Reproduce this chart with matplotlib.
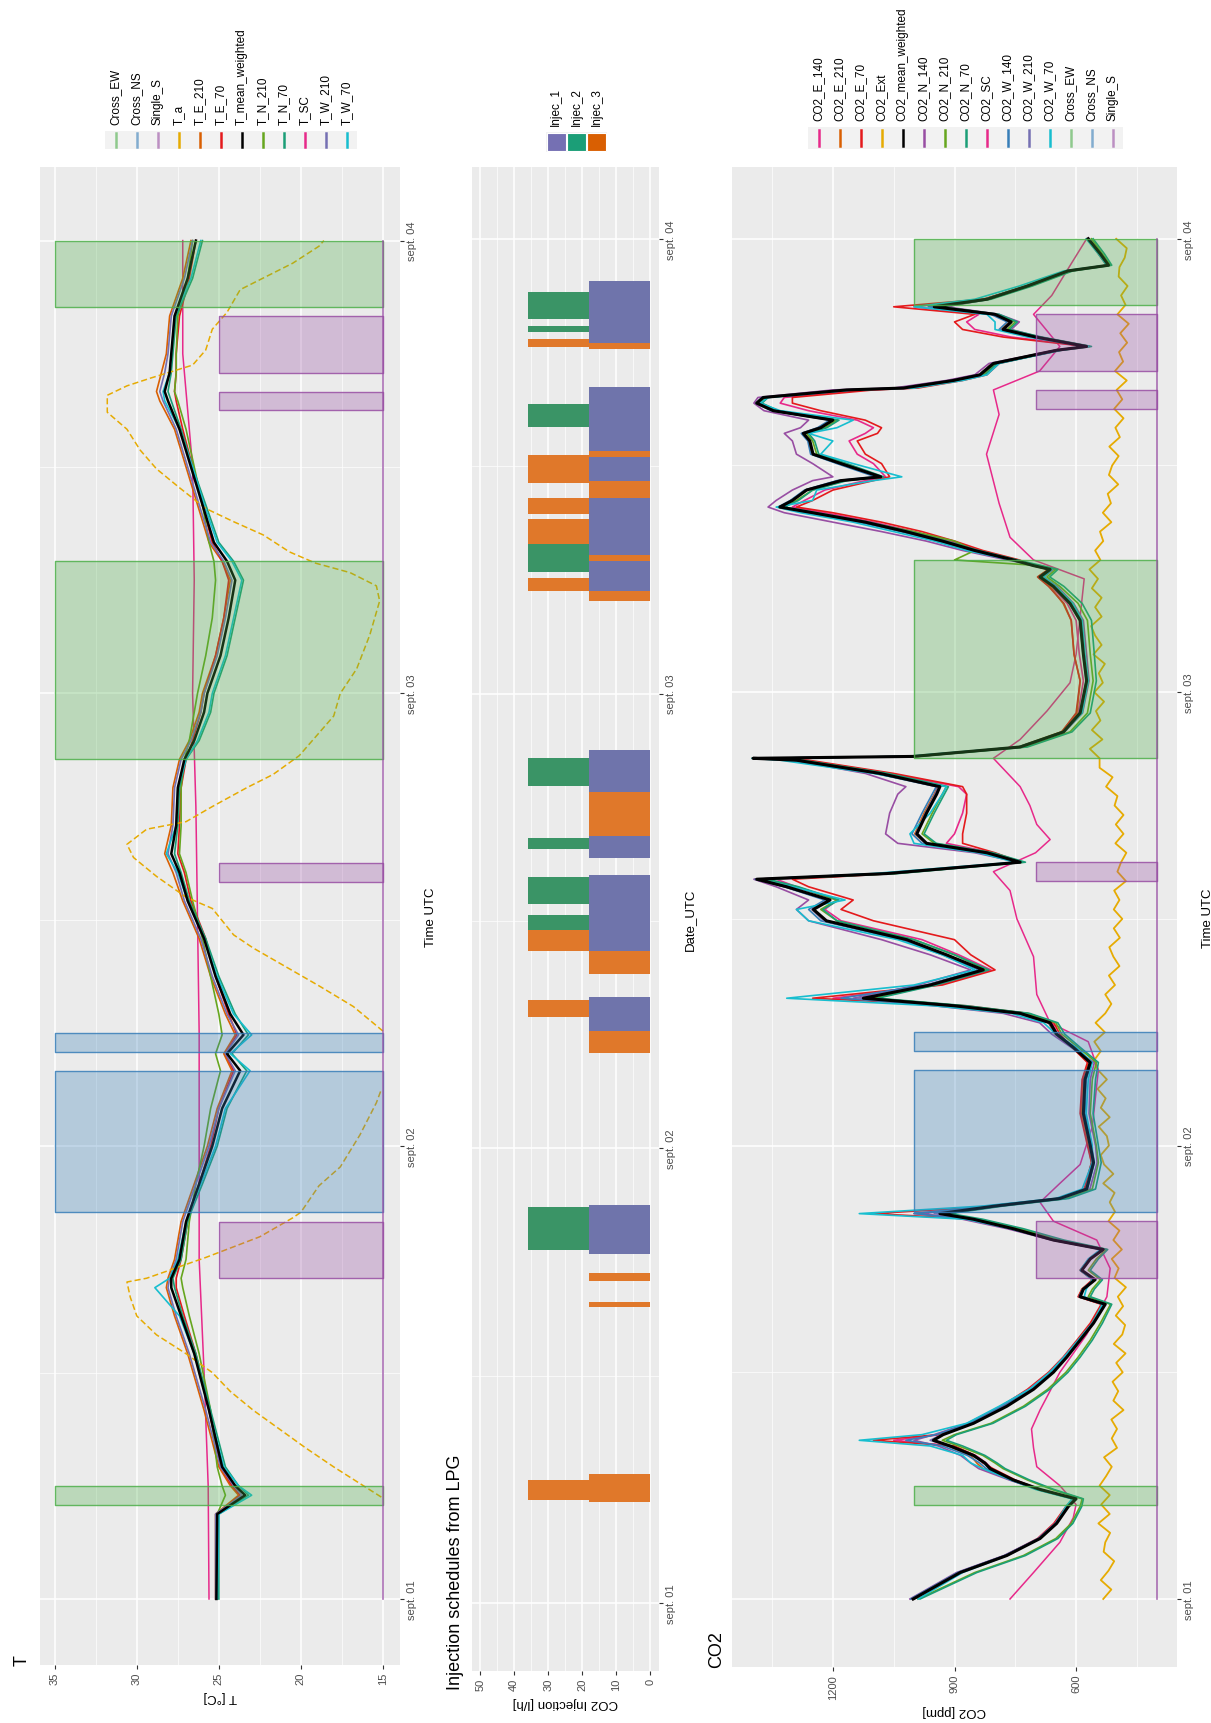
import matplotlib.pyplot as plt
from matplotlib.colors import to_rgba
from matplotlib.patches import Rectangle

plt.rcParams['font.family'] = ['Liberation Sans', 'DejaVu Sans']

W, H = 1211, 1724

# time is in hours since 1 Sept 00:00 UTC
day_ticks = [0, 24, 48, 72]
day_labels = ['sept. 01', 'sept. 02', 'sept. 03', 'sept. 04']

# ---------- ventilation periods ----------
cross_ew_start = [5.0, 44.5, 68.5]
cross_ew_end = [6.0, 55.0, 72.0]
cross_ns_start = [20.5, 29.0]
cross_ns_end = [28.0, 30.0]
single_s_start = [17.0, 38.0, 63.0, 65.0]
single_s_end = [20.0, 39.0, 64.0, 68.0]

# ---------- temperatures ----------
t_hours = [0, 4.5, 5.5, 6, 7, 10, 13, 15, 16.5, 17,
           18, 20, 20.5, 22, 24, 26, 28, 28.9, 29.9, 31,
           33, 35, 37, 38.5, 39.5, 41, 43, 44.5, 45.5, 47,
           48, 50, 52, 54, 55, 56, 58, 60, 62, 63.5,
           64, 65, 66, 68, 69, 70, 72]
T_mean_weighted = [25.15, 25.1, 23.4, 24.0, 24.8, 25.6, 26.5, 27.3, 27.9, 27.9,
                   27.4, 27.0, 26.8, 26.2, 25.4, 24.8, 23.7, 24.5, 23.5, 24.3,
                   25.2, 25.9, 26.9, 27.4, 27.9, 27.6, 27.5, 27.1, 26.5, 25.9,
                   25.7, 24.9, 24.4, 24.0, 24.5, 25.3, 26.0, 26.7, 27.4, 28.1,
                   28.3, 28.0, 27.9, 27.7, 27.3, 26.9, 26.4]
T_N_210 = [25.1, 25.1, 24.6, 24.8, 25.1, 25.5, 26.2, 26.8, 27.2, 27.3,
           27.0, 26.8, 26.7, 26.4, 25.9, 25.5, 24.9, 25.2, 24.8, 25.0,
           25.5, 26.0, 26.6, 27.0, 27.4, 27.3, 27.3, 27.1, 26.8, 26.5,
           26.3, 25.8, 25.4, 25.2, 25.3, 25.6, 26.0, 26.5, 27.0, 27.5,
           27.7, 27.6, 27.6, 27.5, 27.2, 26.9, 26.6]
T_N_70 = [25.0, 25.0, 23.2, 23.8, 24.6, 25.5, 26.4, 27.2, 27.7, 27.8,
          27.3, 26.9, 26.7, 26.0, 25.1, 24.5, 23.3, 24.2, 23.2, 24.0,
          25.0, 25.8, 26.8, 27.3, 27.7, 27.5, 27.4, 27.0, 26.2, 25.5,
          25.3, 24.5, 24.0, 23.5, 24.1, 25.0, 25.8, 26.6, 27.3, 27.9,
          28.1, 27.9, 27.8, 27.6, 27.1, 26.6, 26.0]
T_W_70 = [25.1, 25.0, 23.0, 23.8, 24.7, 25.6, 26.5, 27.4, 28.9, 28.0,
          27.5, 27.0, 26.8, 26.1, 25.2, 24.6, 23.1, 24.3, 23.0, 24.1,
          25.1, 25.9, 26.9, 27.5, 28.2, 27.6, 27.5, 27.0, 26.3, 25.6,
          25.4, 24.6, 24.1, 23.6, 24.2, 25.1, 25.9, 26.6, 27.4, 28.3,
          28.4, 28.0, 27.9, 27.7, 27.2, 26.7, 26.1]
T_W_210 = [25.2, 25.2, 23.6, 24.1, 24.9, 25.8, 26.8, 27.6, 28.1, 28.0,
           27.6, 27.2, 27.0, 26.4, 25.6, 25.0, 24.0, 24.6, 23.8, 24.5,
           25.4, 26.1, 27.1, 27.6, 28.1, 27.8, 27.7, 27.3, 26.7, 26.1,
           25.9, 25.1, 24.6, 24.2, 24.7, 25.5, 26.2, 26.9, 27.6, 28.4,
           28.6, 28.3, 28.1, 27.9, 27.5, 27.1, 26.6]
T_E_210 = [25.2, 25.2, 23.8, 24.3, 25.0, 25.9, 26.9, 27.7, 28.2, 28.1,
           27.7, 27.3, 27.1, 26.5, 25.7, 25.1, 24.2, 24.7, 24.0, 24.6,
           25.5, 26.2, 27.2, 27.8, 28.3, 27.9, 27.8, 27.4, 26.8, 26.2,
           26.0, 25.2, 24.7, 24.3, 24.8, 25.6, 26.3, 27.0, 27.7, 28.6,
           28.8, 28.5, 28.2, 28.0, 27.6, 27.2, 26.7]
T_E_70 = [25.1, 25.1, 23.7, 24.2, 24.9, 25.6, 26.4, 27.1, 27.6, 27.6,
          27.3, 26.9, 26.8, 26.2, 25.5, 25.0, 24.1, 24.6, 23.9, 24.4,
          25.2, 25.8, 26.7, 27.1, 27.5, 27.4, 27.3, 27.0, 26.6, 26.1,
          25.9, 25.2, 24.7, 24.4, 24.8, 25.4, 26.0, 26.6, 27.2, 27.6,
          27.7, 27.6, 27.6, 27.4, 27.1, 26.8, 26.4]
sc_hours = [0, 6, 12, 18, 24, 30, 36, 42, 48, 54, 60, 66, 72]
T_SC = [25.6, 25.65, 25.9, 26.2, 26.2, 26.2, 26.3, 26.4, 26.6, 26.5, 26.6, 27.2, 27.2]
nan = float('nan')
ta_hours = [5.4, 7.0, 8.0, 9.0, 10.0, 11.0, 12.0, 13.0, 14.0, 15.0,
            16.0, 16.8, 17.0, 18.1, 19.2, 20.2, 20.5, 21.9, 22.9, 24.6,
            26.3, 27.0, nan, 30.1, 31.4, 32.5, 33.5, 34.5, 35.2, 36.6,
            37.2, 38.3, 39.3, 40.0, 40.8, 41.2, 42.0, 43.0, 43.7, 44.7,
            46.8, 48.0, 49.3, 51.1, 52.9, 53.7, 54.4, 54.9, 55.5, 56.4,
            57.1, 57.8, 58.9, 59.9, 60.9, 62.0, 62.9, 63.8, 64.3, 64.7,
            65.4, 66.2, 67.3, 68.2, 69.4, 70.1, 70.8, 71.7, 72.0]
T_a = [15.1, 18.0, 19.7, 21.3, 22.9, 24.3, 25.4, 27.0, 28.8, 30.0,
       30.4, 30.6, 29.4, 25.8, 22.5, 20.5, 20.0, 18.9, 17.6, 16.4,
       15.4, 15.1, nan, 15.0, 16.8, 18.9, 20.9, 22.9, 24.1, 25.4,
       27.0, 28.8, 30.2, 30.6, 29.4, 27.0, 25.4, 23.3, 21.7, 20.1,
       18.0, 17.6, 16.6, 15.8, 15.2, 15.4, 17.0, 19.1, 20.7, 22.3,
       24.1, 25.8, 27.4, 28.8, 29.8, 30.6, 31.8, 31.8, 30.6, 29.2,
       26.6, 25.8, 25.4, 24.5, 23.7, 22.1, 20.5, 18.9, 18.6]

# ---------- CO2 injections (l/h), intervals in hours ----------
inj1_start = [18.4, 30.2, 34.4, 39.3, 42.8, 53.4, 55.3, 59.2, 60.8, 66.5]
inj1_end = [21.0, 32.0, 38.4, 40.5, 45.0, 55.0, 58.3, 60.5, 64.2, 69.8]
inj2_start = [18.6, 35.5, 36.9, 39.8, 43.1, 54.4, 62.1, 67.1, 67.8]
inj2_end = [20.9, 36.3, 38.3, 40.4, 44.6, 55.9, 63.3, 67.4, 69.2]
inj3_start = [5.3, 5.45, 15.6, 17.0, 29.0, 30.9, 33.2, 34.4, 40.5,
              52.9, 53.4, 55.0, 55.9, 57.5, 58.3, 59.1, 60.5, 66.2, 66.3]
inj3_end = [6.8, 6.5, 15.9, 17.4, 30.2, 31.8, 34.4, 35.5, 42.8,
            53.4, 54.1, 55.3, 57.2, 58.3, 59.2, 60.6, 60.8, 66.5, 66.7]
inj3_base = [0, 18, 0, 0, 0, 18, 0, 18, 0,
             0, 18, 0, 18, 18, 0, 18, 0, 0, 18]
inj_rate = 18

# ---------- CO2 concentrations (ppm) ----------
co2_hours = [0, 1.4, 2.3, 3.2, 4.0, 4.9, 5.3, 5.8, 6.3, 6.9,
             7.2, 7.6, 8.1, 8.4, 8.7, 9.3, 10.2, 11.1, 12.0, 12.8,
             13.7, 14.6, 15.6, 16.0, 16.4, 16.9, 17.4, 18.0, 18.5, 19.0,
             19.6, 20.1, 20.4, 20.8, 21.2, 21.7, 23.1, 24.0, 25.7, 27.5,
             28.4, 29.2, 29.9, 30.5, 31.0, 31.4, 31.8, 32.5, 33.3, 34.1,
             34.9, 35.9, 36.5, 37.0, 37.7, 38.1, 38.4, 39.0, 39.5, 40.0,
             40.5, 41.6, 42.6, 43.0, 43.7, 44.4, 44.5, 44.6, 45.1, 45.9,
             46.9, 48.6, 50.0, 51.8, 52.7, 53.6, 54.1, 54.5, 54.7, 55.0,
             55.5, 56.0, 56.5, 57.0, 57.5, 57.8, 58.15, 58.7, 59.2, 59.4,
             60.1, 60.6, 61.3, 61.7, 62.0, 62.4, 62.9, 63.3, 63.6, 64.0,
             64.1, 64.5, 64.8, 65.4, 66.1, 66.3, 66.8, 67.2, 67.6, 68.0,
             68.4, 68.8, 69.5, 70.3, 70.6, 71.2, 72.0]
CO2_mean_weighted = [1002, 886, 771, 689, 648, 619, 600, 689, 755, 812,
                     825, 853, 911, 952, 928, 853, 771, 705, 656, 623,
                     590, 557, 528, 590, 582, 553, 586, 565, 533, 656,
                     755, 853, 936, 800, 640, 574, 557, 565, 582, 578,
                     565, 607, 648, 664, 738, 900, 1125, 960, 829, 920,
                     1018, 1216, 1248, 1207, 1314, 1388, 1067, 738, 820, 969,
                     993, 969, 944, 936, 1084, 1290, 1397, 1002, 738, 631,
                     590, 574, 582, 590, 615, 656, 689, 664, 705, 755,
                     850, 930, 1020, 1120, 1250, 1331, 1300, 1265, 1180, 1082,
                     1180, 1249, 1257, 1273, 1230, 1200, 1347, 1388, 1372, 1166,
                     1026, 903, 837, 804, 648, 574, 700, 780, 760, 800,
                     950, 820, 720, 620, 520, 540, 570]
CO2_W_70 = [990, 880, 770, 690, 650, 625, 610,
            700, 760, 830, 860, 880, 960, 1135, 980,
            870, 790, 715, 665, 630, 595, 560, 535,
            580, 575, 560, 590, 570, 540, 650,
            760, 870, 1135, 830,
            650, 585, 560, 560, 575, 570, 560,
            600, 650, 680, 760, 950, 1314,
            1000, 850, 930, 1040, 1260, 1290, 1170, 1300, 1380, 1100,
            750, 840, 1000, 1010, 960, 930, 920, 1100,
            1330, 1400, 1020,
            740, 630, 585, 570, 578, 585, 608, 650, 680, 660, 700,
            760, 870, 950, 1050, 1150, 1280, 1340,
            1250, 1240, 1100, 1030, 1150, 1230, 1200, 1260, 1190, 1150, 1330, 1380, 1360,
            1150, 1000, 880, 820, 790, 640, 570,
            720, 800, 800, 820, 1000, 850,
            740, 630, 525, 545, 575]
CO2_E_70 = [1000, 890, 775, 695, 655, 625, 605,
            690, 750, 805, 830, 850, 900, 1100, 940,
            860, 785, 720, 668, 632, 598, 565, 538,
            595, 585, 560, 590, 568, 538, 640,
            740, 840, 1100, 790,
            645, 580, 562, 572, 590, 585, 572,
            610, 640, 655, 720, 870, 1250,
            930, 800, 860, 900, 1100, 1180, 1150, 1260, 1300, 1050,
            735, 800, 880, 880, 870, 870, 880, 1050,
            1260, 1380, 990,
            735, 635, 600, 590, 605, 612, 630, 668, 695, 668, 705,
            740, 830, 900, 980, 1080, 1200, 1290,
            1250, 1200, 1100, 1060, 1080, 1120, 1140, 1090, 1080, 1120, 1230, 1300, 1300,
            1100, 990, 880, 820, 790, 645, 575,
            780, 880, 900, 850, 1050, 830,
            720, 620, 525, 545, 572]
CO2_E_140 = [1005, 890, 772, 690, 648, 620, 602,
             688, 752, 808, 822, 848, 905, 1050, 935,
             858, 778, 712, 660, 626, 592, 560, 532,
             592, 584, 556, 588, 566, 535, 650,
             750, 850, 1000, 800,
             642, 576, 560, 570, 586, 582, 570,
             605, 645, 660, 730, 880, 1200,
             940, 810, 890, 980, 1180, 1220, 1190, 1290, 1340, 1060,
             737, 805, 920, 900, 880, 870, 890, 1060,
             1270, 1390, 1000,
             736, 632, 595, 582, 592, 600, 622, 662, 692, 665, 705,
             745, 840, 910, 1000, 1100, 1220, 1300,
             1270, 1220, 1120, 1070, 1100, 1140, 1160, 1120, 1100, 1140, 1260, 1330, 1320,
             1120, 1000, 890, 825, 795, 646, 574,
             760, 850, 870, 840, 1000, 825,
             722, 622, 522, 542, 571]
CO2_E_210 = [1000, 888, 774, 692, 652, 622, 605,
             692, 760, 830, 845, 860, 915, 955, 930,
             856, 776, 710, 660, 628, 595, 562, 532,
             594, 586, 558, 590, 568, 536, 658,
             758, 856, 940, 805,
             644, 578, 562, 570, 588, 584, 570,
             610, 652, 668, 742, 905, 1130,
             965, 835, 925, 1022, 1220, 1252, 1212, 1318, 1392, 1070,
             742, 825, 972, 998, 975, 950, 942, 1088,
             1295, 1400, 1005,
             742, 636, 598, 590, 605, 612, 632, 665, 695, 668, 708,
             758, 852, 932, 1022, 1122, 1252, 1333,
             1302, 1268, 1184, 1086, 1184, 1252, 1260, 1276, 1234, 1204, 1350, 1390, 1374,
             1168, 1030, 906, 840, 808, 652, 578,
             705, 785, 765, 805, 955, 825,
             724, 624, 524, 544, 574]
CO2_N_140 = [1010, 895, 778, 694, 652, 622, 604,
             695, 765, 840, 860, 885, 940, 1000, 950,
             868, 786, 716, 664, 630, 594, 560, 532,
             592, 584, 556, 588, 566, 535, 660,
             770, 880, 980, 820,
             638, 566, 548, 552, 568, 565, 555,
             612, 660, 690, 780, 950, 1150,
             990, 860, 960, 1080, 1260, 1290, 1260, 1340, 1395, 1080,
             742, 850, 1040, 1070, 1060, 1040, 1020, 1120,
             1300, 1395, 1010,
             742, 628, 584, 568, 574, 582, 606, 646, 680, 656, 700,
             770, 880, 970, 1080, 1200, 1320, 1360,
             1340, 1300, 1250, 1200, 1250, 1290, 1300, 1320, 1280, 1260, 1370, 1395, 1385,
             1200, 1050, 920, 850, 815, 650, 572,
             690, 760, 740, 790, 920, 815,
             716, 616, 518, 538, 568]
CO2_N_210 = [990, 850, 730, 650, 612, 590, 585,
             660, 720, 780, 800, 830, 890, 930, 900,
             810, 730, 670, 625, 595, 565, 540, 515,
             570, 560, 540, 570, 550, 525, 640,
             740, 840, 920, 790,
             625, 560, 545, 550, 565, 560, 550,
             595, 635, 650, 720, 880, 1100,
             950, 820, 900, 1000, 1190, 1230, 1190, 1290, 1370, 1050,
             730, 810, 950, 980, 955, 930, 920, 1070,
             1280, 1390, 995,
             725, 615, 572, 558, 565, 572, 595, 640, 672, 650, 690,
             900, 850, 900, 1000, 1120, 1250, 1320,
             1290, 1250, 1170, 1080, 1170, 1240, 1250, 1265, 1220, 1190, 1340, 1380, 1365,
             1160, 1015, 895, 830, 798, 640, 566,
             690, 770, 750, 795, 940, 815,
             712, 612, 515, 535, 562]
CO2_N_70 = [985, 845, 725, 645, 608, 586, 582,
            655, 715, 775, 795, 825, 880, 920, 895,
            805, 725, 665, 620, 590, 560, 535, 512,
            565, 555, 535, 565, 545, 522, 630,
            730, 830, 910, 780,
            618, 552, 538, 545, 558, 552, 545,
            590, 628, 645, 715, 870, 1090,
            945, 815, 900, 1000, 1190, 1225, 1185, 1285, 1360, 1040,
            725, 805, 945, 975, 950, 925, 915, 1065,
            1275, 1385, 990,
            720, 610, 565, 550, 555, 562, 585, 630, 665, 645, 685,
            745, 840, 920, 1010, 1110, 1240, 1320,
            1285, 1250, 1165, 1075, 1165, 1235, 1245, 1260, 1215, 1185, 1335, 1375, 1360,
            1155, 1010, 890, 825, 795, 635, 562,
            685, 765, 745, 790, 935, 810,
            708, 608, 512, 530, 558]
CO2_W_140 = [1008, 892, 776, 692, 650, 621, 602,
             694, 762, 822, 838, 868, 930, 1020, 945,
             862, 780, 712, 662, 628, 594, 560, 530,
             592, 584, 555, 588, 566, 534, 658,
             762, 862, 1000, 815,
             640, 572, 555, 562, 578, 575, 562,
             605, 648, 668, 745, 920, 1180,
             970, 840, 930, 1030, 1230, 1260, 1220, 1320, 1392, 1075,
             740, 826, 980, 1005, 980, 955, 945, 1095,
             1300, 1398, 1005,
             738, 630, 588, 572, 580, 588, 612, 654, 688, 662, 704,
             758, 856, 940, 1032, 1135, 1262, 1335,
             1305, 1270, 1190, 1095, 1190, 1255, 1262, 1278, 1238, 1208, 1352, 1390, 1375,
             1170, 1030, 905, 840, 806, 650, 575,
             705, 790, 770, 810, 965, 825,
             722, 622, 521, 541, 571]
CO2_W_210 = [1004, 888, 772, 690, 649, 620, 601,
             690, 757, 815, 828, 856, 915, 960, 932,
             855, 773, 707, 658, 625, 592, 559, 530,
             591, 583, 554, 587, 566, 534, 657,
             757, 855, 950, 805,
             641, 575, 558, 566, 583, 579, 566,
             608, 650, 666, 740, 905, 1140,
             965, 832, 925, 1024, 1222, 1252, 1212, 1318, 1390, 1070,
             740, 823, 972, 996, 972, 948, 940, 1088,
             1294, 1398, 1004,
             740, 632, 591, 575, 583, 591, 616, 657, 690, 665, 706,
             756, 852, 932, 1022, 1124, 1252, 1332,
             1302, 1267, 1182, 1085, 1182, 1250, 1258, 1275, 1232, 1202, 1348, 1389, 1373,
             1168, 1028, 905, 839, 806, 650, 575,
             702, 782, 762, 802, 952, 822,
             721, 621, 521, 541, 571]
sc2_hours = [0, 1.4, 3, 4.3, 5, 6, 7, 8, 9, 10,
             12, 14, 16, 17.5, 19, 20, 21, 22, 23, 25,
             28, 29.5, 30.5, 32, 34, 36, 37.5, 38.5, 39.5, 40.2,
             41, 42, 43, 44.5, 45.5, 47, 48.5, 50, 52, 54,
             55, 56.2, 58, 60.6, 62.7, 64, 65, 66.3, 68, 69,
             70.3, 72]
CO2_SC = [763, 705, 640, 607, 600, 640, 697, 705, 710, 689,
          640, 574, 524, 516, 549, 656, 689, 640, 590, 560,
          545, 570, 664, 697, 705, 746, 763, 804, 700, 664,
          697, 714, 738, 804, 738, 672, 615, 600, 590, 580,
          705, 763, 790, 821, 790, 804, 690, 640, 705, 660,
          623, 574]
ext_hours = [i * 0.5 for i in range(145)]
CO2_Ext = [533, 513, 539, 520, 506, 532, 528, 516, 545, 517,
           538, 517, 542, 526, 512, 531, 499, 512, 499, 513,
           483, 508, 496, 510, 485, 501, 478, 507, 486, 479,
           502, 484, 497, 477, 505, 495, 512, 487, 508, 493,
           520, 504, 517, 505, 533, 508, 531, 539, 519, 524,
           544, 517, 539, 527, 547, 524, 546, 556, 539, 555,
           529, 552, 528, 513, 528, 504, 519, 493, 508, 518,
           492, 507, 486, 507, 493, 506, 477, 498, 489, 476,
           503, 483, 502, 483, 505, 498, 526, 510, 542, 542,
           566, 535, 561, 540, 551, 531, 555, 534, 544, 529,
           557, 537, 553, 563, 537, 553, 537, 561, 546, 567,
           540, 553, 533, 541, 513, 534, 514, 522, 496, 519,
           511, 495, 518, 492, 503, 483, 506, 486, 500, 475,
           504, 484, 494, 474, 491, 470, 498, 478, 489, 473,
           495, 493, 480, 475, 501]

# ---------- colours ----------
c_green, c_blue, c_purple = '#4DAF4A', '#377EB8', '#984EA3'
c_yellow, c_orange, c_red = '#E6AB02', '#D95F02', '#E41A1C'
c_lgreen, c_teal, c_pink = '#66A61E', '#1B9E77', '#E7298A'
c_slate, c_cyan = '#7570B3', '#17BECF'
inj_colors = ['#6F74AB', '#3A9466', '#E0782A']

fig = plt.figure(figsize=(W / 100, H / 100), dpi=100)


def px_axes(x0, y0, x1, y1):
    return fig.add_axes([x0 / W, 1 - y1 / H, (x1 - x0) / W, (y1 - y0) / H])


def style_panel(ax, lo, hi, major, minor, xlabel, tlabel, ylim):
    ax.set_facecolor('#EBEBEB')
    ax.set_xlim(hi, lo)
    ax.set_ylim(*ylim)
    ax.set_xticks(major)
    ax.set_xticks(minor, minor=True)
    ax.set_xticklabels([str(v) for v in major], rotation=90)
    ax.set_yticks(day_ticks)
    ax.set_yticks([12, 36, 60], minor=True)
    ax.yaxis.tick_right()
    ax.yaxis.set_label_position('right')
    ax.set_yticklabels(day_labels, rotation=90, va='center')
    ax.grid(which='major', color='white', lw=1.1)
    ax.grid(which='minor', color='white', lw=0.5)
    ax.set_axisbelow(True)
    for s in ax.spines.values():
        s.set_visible(False)
    ax.tick_params(which='major', length=3, width=0.8, color='#333333',
                   labelcolor='#4D4D4D', labelsize=8, pad=2)
    ax.tick_params(which='minor', length=0)
    ax.set_xlabel(xlabel, rotation=180, fontsize=9.5, labelpad=4)
    ax.set_ylabel(tlabel, rotation=90, fontsize=9.5, labelpad=6)


def shade(ax, lo, hi, lo_s, hi_s, base):
    spans = [(cross_ew_start, cross_ew_end, c_green, lo, hi),
             (cross_ns_start, cross_ns_end, c_blue, lo, hi),
             (single_s_start, single_s_end, c_purple, lo_s, hi_s)]
    for starts, ends, col, a, b in spans:
        for s, e in zip(starts, ends):
            ax.fill_betweenx([s, e], a, b, facecolor=to_rgba(col, 0.3),
                             edgecolor=to_rgba(col, 0.85), lw=1, zorder=4)
    ax.plot([base, base], [0, 72], color=c_purple, alpha=0.8, lw=1.2, zorder=4)


def legend_strip(x0, y0, x1, y1, labels, colors, patches=False, alphas=None):
    lax = px_axes(x0, y0, x1, y1)
    n = len(labels)
    lax.set_xlim(0, n)
    lax.set_ylim(0, 1)
    lax.axis('off')
    lax.add_patch(Rectangle((0, 0), n, 1, facecolor='#F2F2F2', edgecolor='none'))
    for i, (lab, col) in enumerate(zip(labels, colors)):
        a = 1 if alphas is None else alphas[i]
        if patches:
            lax.add_patch(Rectangle((i + 0.03, 0.03), 0.94, 0.94, facecolor=col,
                                    edgecolor='white', lw=0.8))
        else:
            lax.plot([i + 0.5, i + 0.5], [0.12, 0.88], color=col, lw=1.8, alpha=a)
        fig.text((x0 + (i + 0.5) * (x1 - x0) / n) / W, 1 - (y0 - 7) / H, lab,
                 rotation=90, ha='center', va='bottom', fontsize=8.5, color='black')


# ---------- T panel ----------
axT = px_axes(40, 168, 400, 1666)
t_series = [(T_E_210, c_orange), (T_E_70, c_red), (T_N_210, c_lgreen),
            (T_N_70, c_teal), (T_W_210, c_slate), (T_W_70, c_cyan)]
axT.plot(T_SC, sc_hours, color=c_pink, lw=1.1, zorder=2)
for vals, col in t_series:
    axT.plot(vals, t_hours, color=col, lw=1.2, zorder=2)
axT.plot(T_mean_weighted, t_hours, color='black', lw=1.8, zorder=3)
axT.plot(T_a, ta_hours, color=c_yellow, lw=1.1, ls=(0, (4, 2)), zorder=2)
shade(axT, 15, 35, 15, 25, 15)
style_panel(axT, 13.96, 35.9, [15, 20, 25, 30, 35], [17.5, 22.5, 27.5, 32.5],
            'T [°C]', 'Time UTC', (-3.5, 75.9))

# ---------- injection panel ----------
axI = px_axes(472, 168, 659, 1672)
for s, e in zip(inj1_start, inj1_end):
    axI.fill_betweenx([s, e], 0, inj_rate, color=inj_colors[0], lw=0)
for s, e in zip(inj2_start, inj2_end):
    axI.fill_betweenx([s, e], inj_rate, 2 * inj_rate, color=inj_colors[1], lw=0)
for s, e, b in zip(inj3_start, inj3_end, inj3_base):
    axI.fill_betweenx([s, e], b, b + inj_rate, color=inj_colors[2], lw=0)
style_panel(axI, -2.6, 52.4, [0, 10, 20, 30, 40, 50], [5, 15, 25, 35, 45],
            'CO2 Injection [l/h]', 'Date_UTC', (-3.6, 75.8))

# ---------- CO2 panel ----------
axC = px_axes(732, 168, 1177, 1668)
co2_series = [(CO2_E_140, c_pink), (CO2_E_210, c_orange), (CO2_E_70, c_red),
              (CO2_N_140, c_purple), (CO2_N_210, c_lgreen), (CO2_N_70, c_teal),
              (CO2_W_140, c_blue), (CO2_W_210, c_slate), (CO2_W_70, c_cyan)]
axC.plot(CO2_Ext, ext_hours, color=c_yellow, lw=1.3, zorder=2)
axC.plot(CO2_SC, sc2_hours, color=c_pink, lw=1.1, zorder=2)
for vals, col in co2_series:
    axC.plot(vals, co2_hours, color=col, lw=1.2, zorder=2)
axC.plot(CO2_mean_weighted, co2_hours, color='black', lw=2.2, zorder=3)
shade(axC, 400, 1000, 400, 700, 400)
style_panel(axC, 351, 1449, [600, 900, 1200], [450, 750, 1050, 1350],
            'CO2 [ppm]', 'Time UTC', (-3.6, 75.8))

# ---------- titles ----------
fig.text(22 / W, 1 - 1666 / H, 'T', rotation=90, ha='center', va='bottom', fontsize=13)
fig.text(456 / W, 1 - 1690 / H, 'Injection schedules from LPG', rotation=90,
         ha='center', va='bottom', fontsize=13)
fig.text(717 / W, 1 - 1668 / H, 'CO2', rotation=90, ha='center', va='bottom', fontsize=13)

# ---------- legends ----------
legend_strip(105, 132, 357, 150,
             ['Cross_EW', 'Cross_NS', 'Single_S', 'T_a', 'T_E_210', 'T_E_70',
              'T_mean_weighted', 'T_N_210', 'T_N_70', 'T_SC', 'T_W_210', 'T_W_70'],
             [c_green, c_blue, c_purple, c_yellow, c_orange, c_red, 'black',
              c_lgreen, c_teal, c_pink, c_slate, c_cyan],
             alphas=[0.6, 0.6, 0.6] + [1] * 9)
legend_strip(546, 133, 607, 153, ['Injec_1', 'Injec_2', 'Injec_3'],
             ['#7570B3', '#1B9E77', '#D95F02'], patches=True)
legend_strip(808, 128, 1123, 150,
             ['CO2_E_140', 'CO2_E_210', 'CO2_E_70', 'CO2_Ext', 'CO2_mean_weighted',
              'CO2_N_140', 'CO2_N_210', 'CO2_N_70', 'CO2_SC', 'CO2_W_140',
              'CO2_W_210', 'CO2_W_70', 'Cross_EW', 'Cross_NS', 'Single_S'],
             [c_pink, c_orange, c_red, c_yellow, 'black', c_purple, c_lgreen,
              c_teal, c_pink, c_blue, c_slate, c_cyan, c_green, c_blue, c_purple],
             alphas=[1] * 12 + [0.6, 0.6, 0.6])

fig.savefig('out.png', dpi=100, facecolor='white')
